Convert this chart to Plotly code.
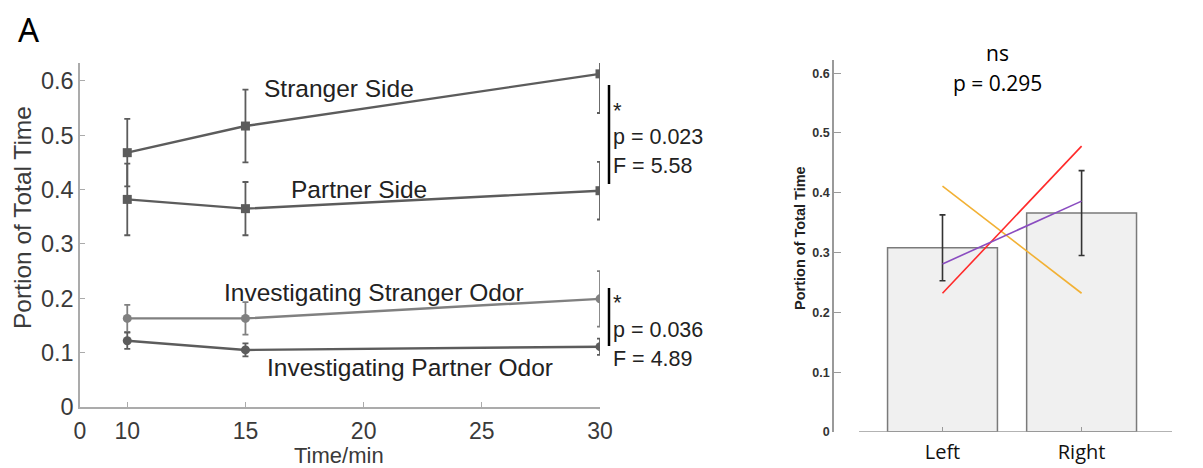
import plotly.graph_objects as go

W, H = 1203, 468

# ---------------- data: left panel ----------------
time_min = [10, 15, 30]
stranger_side = [0.468, 0.517, 0.613]
stranger_side_err = [0.062, 0.067, 0.072]
partner_side = [0.382, 0.365, 0.398]
partner_side_err = [0.066, 0.049, 0.053]
inv_stranger = [0.163, 0.163, 0.199]
inv_stranger_err = [0.025, 0.030, 0.051]
inv_partner = [0.122, 0.105, 0.111]
inv_partner_err = [0.015, 0.012, 0.015]
x_tick_vals = [8, 10, 15, 20, 25, 30]
x_tick_text = ["0", "10", "15", "20", "25", "30"]
y_tick_vals = [0, 0.1, 0.2, 0.3, 0.4, 0.5, 0.6]
y_tick_text = ["0", "0.1", "0.2", "0.3", "0.4", "0.5", "0.6"]

# ---------------- data: right panel ----------------
sides = ["Left", "Right"]
side_pos = [0, 1]
side_mean = [0.308, 0.366]
side_err = [0.055, 0.071]
line_orange = [0.411, 0.232]
line_red = [0.232, 0.478]
line_purple = [0.281, 0.386]
r_tick_vals = [0, 0.1, 0.2, 0.3, 0.4, 0.5, 0.6]
r_tick_text = ["0", "0.1", "0.2", "0.3", "0.4", "0.5", "0.6"]


def px_x(p):
    return p / W


def px_y(p):
    return 1 - p / H


FONT = "Liberation Sans, Arial, sans-serif"
SANS2 = "Open Sans, sans-serif"
DARK = "#5c5c5c"
LIGHT = "#808080"

fig = go.Figure()


def add_series(y, err, color, symbol):
    fig.add_trace(go.Scatter(
        x=time_min, y=y, mode="lines+markers",
        line=dict(color=color, width=2.4),
        marker=dict(symbol=symbol, size=9, color=color),
        error_y=dict(type="data", array=err, color=color, thickness=1.8, width=3),
        xaxis="x", yaxis="y", showlegend=False, hoverinfo="skip"))


add_series(stranger_side, stranger_side_err, DARK, "square")
add_series(partner_side, partner_side_err, DARK, "square")
add_series(inv_stranger, inv_stranger_err, LIGHT, "circle")
add_series(inv_partner, inv_partner_err, DARK, "circle")

# right panel bars
fig.add_trace(go.Bar(
    x=side_pos, y=side_mean, width=0.79,
    marker=dict(color="#f0f0f0", line=dict(color="#7a7a7a", width=1.5)),
    error_y=dict(type="data", array=side_err, color="#333333", thickness=1.6, width=3),
    xaxis="x2", yaxis="y2", showlegend=False, hoverinfo="skip"))

for vals, col in [(line_orange, "#f2b134"), (line_red, "#ff2a2a"), (line_purple, "#8a4cc0")]:
    fig.add_trace(go.Scatter(
        x=side_pos, y=vals, mode="lines", line=dict(color=col, width=1.6),
        xaxis="x2", yaxis="y2", showlegend=False, hoverinfo="skip"))

annotations = []


def ann(text, x, y, size, xanchor="center", yanchor="middle", color="#222222",
        family=FONT, angle=0):
    annotations.append(dict(text=text, x=x, y=y, xref="paper", yref="paper",
                            xanchor=xanchor, yanchor=yanchor, showarrow=False,
                            textangle=angle,
                            font=dict(size=size, color=color, family=family)))


# left panel labels
ann("Stranger Side", px_x(339), px_y(88), 24.5)
ann("Partner Side", px_x(359), px_y(189), 24.5)
ann("Investigating Stranger Odor", px_x(374), px_y(292), 24.5)
ann("Investigating Partner Odor", px_x(410), px_y(367), 24.5)

# significance text
ann("*", px_x(611), px_y(110), 22, xanchor="left")
ann("p = 0.023", px_x(611), px_y(137), 21.5, xanchor="left")
ann("F = 5.58", px_x(611), px_y(166), 21.5, xanchor="left")
ann("*", px_x(611), px_y(302), 22, xanchor="left")
ann("p = 0.036", px_x(611), px_y(330), 21.5, xanchor="left")
ann("F = 4.89", px_x(611), px_y(359), 21.5, xanchor="left")

ann("A", px_x(29), px_y(29), 33, color="#000000", family="Noto Sans, sans-serif")
ann("Portion of Total Time", px_x(22), px_y(218), 24.5, color="#3a3a3a", angle=-90)
ann("Time/min", px_x(339), px_y(455), 22, color="#3a3a3a")

# right panel labels
ann("ns", px_x(997), px_y(53), 21, color="#000000", family=SANS2)
ann("p = 0.295", px_x(997), px_y(83), 21, color="#000000", family=SANS2)
ann("<b>Portion of Total Time</b>", px_x(800), px_y(238), 14.5, color="#222222", angle=-90)

shapes = [
    dict(type="line", xref="paper", yref="paper",
         x0=px_x(609), x1=px_x(609), y0=px_y(85), y1=px_y(184),
         line=dict(color="#000000", width=2.5)),
    dict(type="line", xref="paper", yref="paper",
         x0=px_x(609), x1=px_x(609), y0=px_y(288), y1=px_y(346),
         line=dict(color="#000000", width=2.5)),
    dict(type="line", xref="x2", yref="y2", x0=-0.60, x1=1.65, y0=0, y1=0,
         line=dict(color="#9a9a9a", width=1.5)),
]

fig.update_layout(
    template="none",
    width=W, height=H,
    margin=dict(l=0, r=0, t=0, b=0, pad=0),
    paper_bgcolor="white", plot_bgcolor="white",
    annotations=annotations, shapes=shapes,
    xaxis=dict(domain=[px_x(80), px_x(600)], range=[8, 30],
               tickvals=x_tick_vals, ticktext=x_tick_text,
               showline=True, linecolor="#ababab", linewidth=1.5,
               ticks="inside", ticklen=5, tickcolor="#ababab", tickwidth=1.2,
               showgrid=False, zeroline=False, automargin=False,
               ticklabelstandoff=3,
               tickfont=dict(size=23, color="#3a3a3a", family=FONT),
               anchor="y"),
    yaxis=dict(domain=[px_y(407), px_y(63)], range=[0, 0.633],
               tickvals=y_tick_vals, ticktext=y_tick_text,
               showline=True, linecolor="#ababab", linewidth=1.5,
               ticks="inside", ticklen=5, tickcolor="#ababab", tickwidth=1.2,
               showgrid=False, zeroline=False, automargin=False,
               tickfont=dict(size=23.5, color="#3a3a3a", family=FONT),
               anchor="x"),
    xaxis2=dict(domain=[px_x(834), px_x(1172)], range=[-0.78, 1.65],
                tickvals=side_pos, ticktext=sides,
                showline=False, ticks="inside", ticklen=5, tickcolor="#9a9a9a",
                showgrid=False, zeroline=False, automargin=False,
                ticklabelstandoff=6,
                tickfont=dict(size=20, color="#111111", family=SANS2),
                anchor="y2"),
    yaxis2=dict(domain=[px_y(432), px_y(60)], range=[0, 0.622],
                tickvals=r_tick_vals, ticktext=r_tick_text,
                showline=True, linecolor="#9a9a9a", linewidth=1.5,
                ticks="inside", ticklen=7, tickcolor="#9a9a9a", tickwidth=1.2,
                showgrid=False, zeroline=False, automargin=False,
                tickfont=dict(size=12.5, color="#333333", family=FONT, weight="bold"),
                anchor="x2"),
)

fig.write_html("out.html")
